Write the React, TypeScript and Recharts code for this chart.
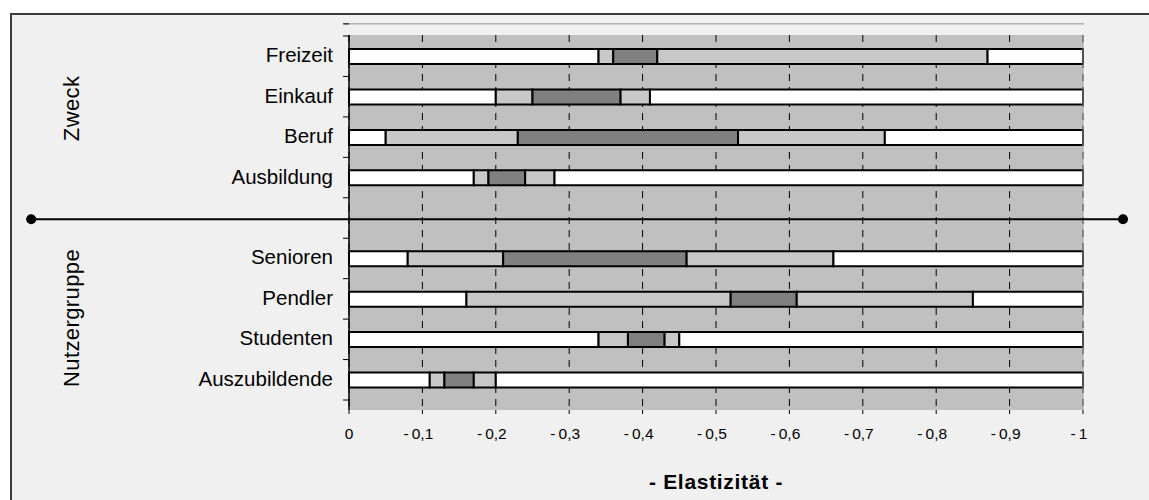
import { BarChart, Bar, XAxis, YAxis, CartesianGrid, ReferenceLine, ReferenceDot } from 'recharts'

const categories = ['Freizeit', 'Einkauf', 'Beruf', 'Ausbildung', '', 'Senioren', 'Pendler', 'Studenten', 'Auszubildende']
// segment boundaries (elasticity, shown as positive magnitude)
const outerLow = [0.34, 0.2, 0.05, 0.17, null, 0.08, 0.16, 0.34, 0.11]
const innerLow = [0.36, 0.25, 0.23, 0.19, null, 0.21, 0.52, 0.38, 0.13]
const innerHigh = [0.42, 0.37, 0.53, 0.24, null, 0.46, 0.61, 0.43, 0.17]
const outerHigh = [0.87, 0.41, 0.73, 0.28, null, 0.66, 0.85, 0.45, 0.2]
const upperEnd = [1, 1, 1, 1, null, 1, 1, 1, 1]

const xTicks = [0, 0.1, 0.2, 0.3, 0.4, 0.5, 0.6, 0.7, 0.8, 0.9, 1]
// group labels, placed by row index
const groups = [
  { label: 'Zweck', row: 1.29 },
  { label: 'Nutzergruppe', row: 6.47 },
]

const data = categories.map((name, i) =>
  outerLow[i] == null
    ? { name, row: i }
    : {
        name,
        row: i,
        s1: outerLow[i],
        s2: +(innerLow[i]! - outerLow[i]!).toFixed(3),
        s3: +(innerHigh[i]! - innerLow[i]!).toFixed(3),
        s4: +(outerHigh[i]! - innerHigh[i]!).toFixed(3),
        s5: +(upperEnd[i]! - outerHigh[i]!).toFixed(3),
      }
)

const FONT = '"Liberation Sans", Arial, sans-serif'
const BG = '#c0c0c0'
const LIGHT = '#c8c8c8'
const DARK = '#808080'

function CatTick(props: any) {
  const { x, y, payload, index } = props
  const half = payload?.offset ?? 20
  const last = index === categories.length - 1
  return (
    <g>
      <line x1={x - 6} x2={x} y1={y - half} y2={y - half} stroke="#000" />
      {last && <line x1={x - 6} x2={x} y1={y + half} y2={y + half} stroke="#000" />}
      {payload.value && (
        <text x={x - 16} y={y} dy={6} textAnchor="end" fontSize={20.5} fill="#000" fontFamily={FONT}>
          {payload.value}
        </text>
      )}
    </g>
  )
}

function XTick(props: any) {
  const { x, y, payload } = props
  const v = payload.value as number
  const label = v === 0 ? '0' : '-\u2009' + String(v).replace('.', ',')
  return (
    <text x={x} y={y} dy="0.71em" dx={v === 0 ? 0 : -4} textAnchor="middle" fontSize={15.5} fill="#000" fontFamily={FONT}>
      {label}
    </text>
  )
}

export default function App() {
  return (
    <div style={{ position: 'absolute', left: 0, top: 0, width: 1149, height: 500, background: '#fff', overflow: 'hidden', fontFamily: FONT }}>
      <div
        style={{
          position: 'absolute',
          left: 10,
          top: 13,
          width: 1160,
          height: 510,
          border: '2px solid #3c3c3c',
          background: '#f0f0f0',
        }}
      />
      <div style={{ position: 'absolute', left: 0, top: 0 }}>
        <BarChart
          width={1149}
          height={500}
          data={data}
          layout="vertical"
          margin={{ top: 35, right: 66, bottom: 0, left: 0 }}
          barSize={15}
        >
          <CartesianGrid horizontal={false} fill={BG} fillOpacity={1} stroke="#000" strokeDasharray="7 6" />
          <XAxis
            type="number"
            domain={[0, 1]}
            ticks={xTicks}
            interval={0}
            axisLine={false}
            tickLine={{ stroke: '#000' }}
            tickSize={4}
            tickMargin={14}
            height={90}
            tick={<XTick />}
            label={{
              value: '- Elastizität -',
              position: 'insideBottom',
              offset: 11,
              fontSize: 21,
              fontWeight: 'bold',
              fill: '#000',
              letterSpacing: 0.7,
              fontFamily: FONT,
            }}
          />
          <YAxis
            type="category"
            dataKey="name"
            width={349}
            padding={{ top: 1, bottom: 10 }}
            axisLine={{ stroke: '#000', strokeWidth: 1.5 }}
            tickLine={false}
            tickSize={0}
            tickMargin={0}
            interval={0}
            tick={<CatTick />}
          />
          <YAxis
            yAxisId="row"
            type="number"
            dataKey="row"
            domain={[-0.5, 8.5]}
            allowDataOverflow
            hide
            padding={{ top: 1, bottom: 10 }}
          />

          <Bar dataKey="s1" stackId="a" fill="#ffffff" stroke="#000" strokeWidth={2} isAnimationActive={false} />
          <Bar dataKey="s2" stackId="a" fill={LIGHT} stroke="#000" strokeWidth={2} isAnimationActive={false} />
          <Bar dataKey="s3" stackId="a" fill={DARK} stroke="#000" strokeWidth={2} isAnimationActive={false} />
          <Bar dataKey="s4" stackId="a" fill={LIGHT} stroke="#000" strokeWidth={2} isAnimationActive={false} />
          <Bar dataKey="s5" stackId="a" fill="#ffffff" stroke="#000" strokeWidth={2} isAnimationActive={false} />

          <ReferenceLine
            yAxisId="row"
            ifOverflow="visible"
            segment={[{ x: -0.008, y: -0.8 }, { x: 1.0015, y: -0.8 }]}
            stroke="#909090"
            strokeWidth={1}
          />
          <ReferenceLine
            yAxisId="row"
            ifOverflow="visible"
            segment={[{ x: -0.008, y: -0.8 }, { x: 0, y: -0.8 }]}
            stroke="#000"
            strokeWidth={1}
          />
          <ReferenceLine
            yAxisId="row"
            ifOverflow="visible"
            segment={[{ x: 1, y: -0.52 }, { x: 1, y: 8.75 }]}
            stroke="#a0a0a0"
            strokeWidth={1}
          />
          <ReferenceLine
            yAxisId="row"
            ifOverflow="visible"
            segment={[{ x: -0.433, y: 4.03 }, { x: 1.0545, y: 4.03 }]}
            stroke="#000"
            strokeWidth={2}
          />
          <ReferenceDot yAxisId="row" x={-0.433} y={4.03} r={5} fill="#000" stroke="none" ifOverflow="visible" />
          <ReferenceDot yAxisId="row" x={1.0545} y={4.03} r={5} fill="#000" stroke="none" ifOverflow="visible" />
          {groups.map((g) => (
            <ReferenceDot
              key={g.label}
              yAxisId="row"
              x={-0.378}
              y={g.row}
              r={1}
              fill="none"
              stroke="none"
              ifOverflow="visible"
              label={{
                value: g.label,
                angle: -90,
                position: 'center',
                fontSize: 22,
                letterSpacing: 0.4,
                fill: '#000',
                fontFamily: FONT,
              }}
            />
          ))}
        </BarChart>
      </div>
    </div>
  )
}
